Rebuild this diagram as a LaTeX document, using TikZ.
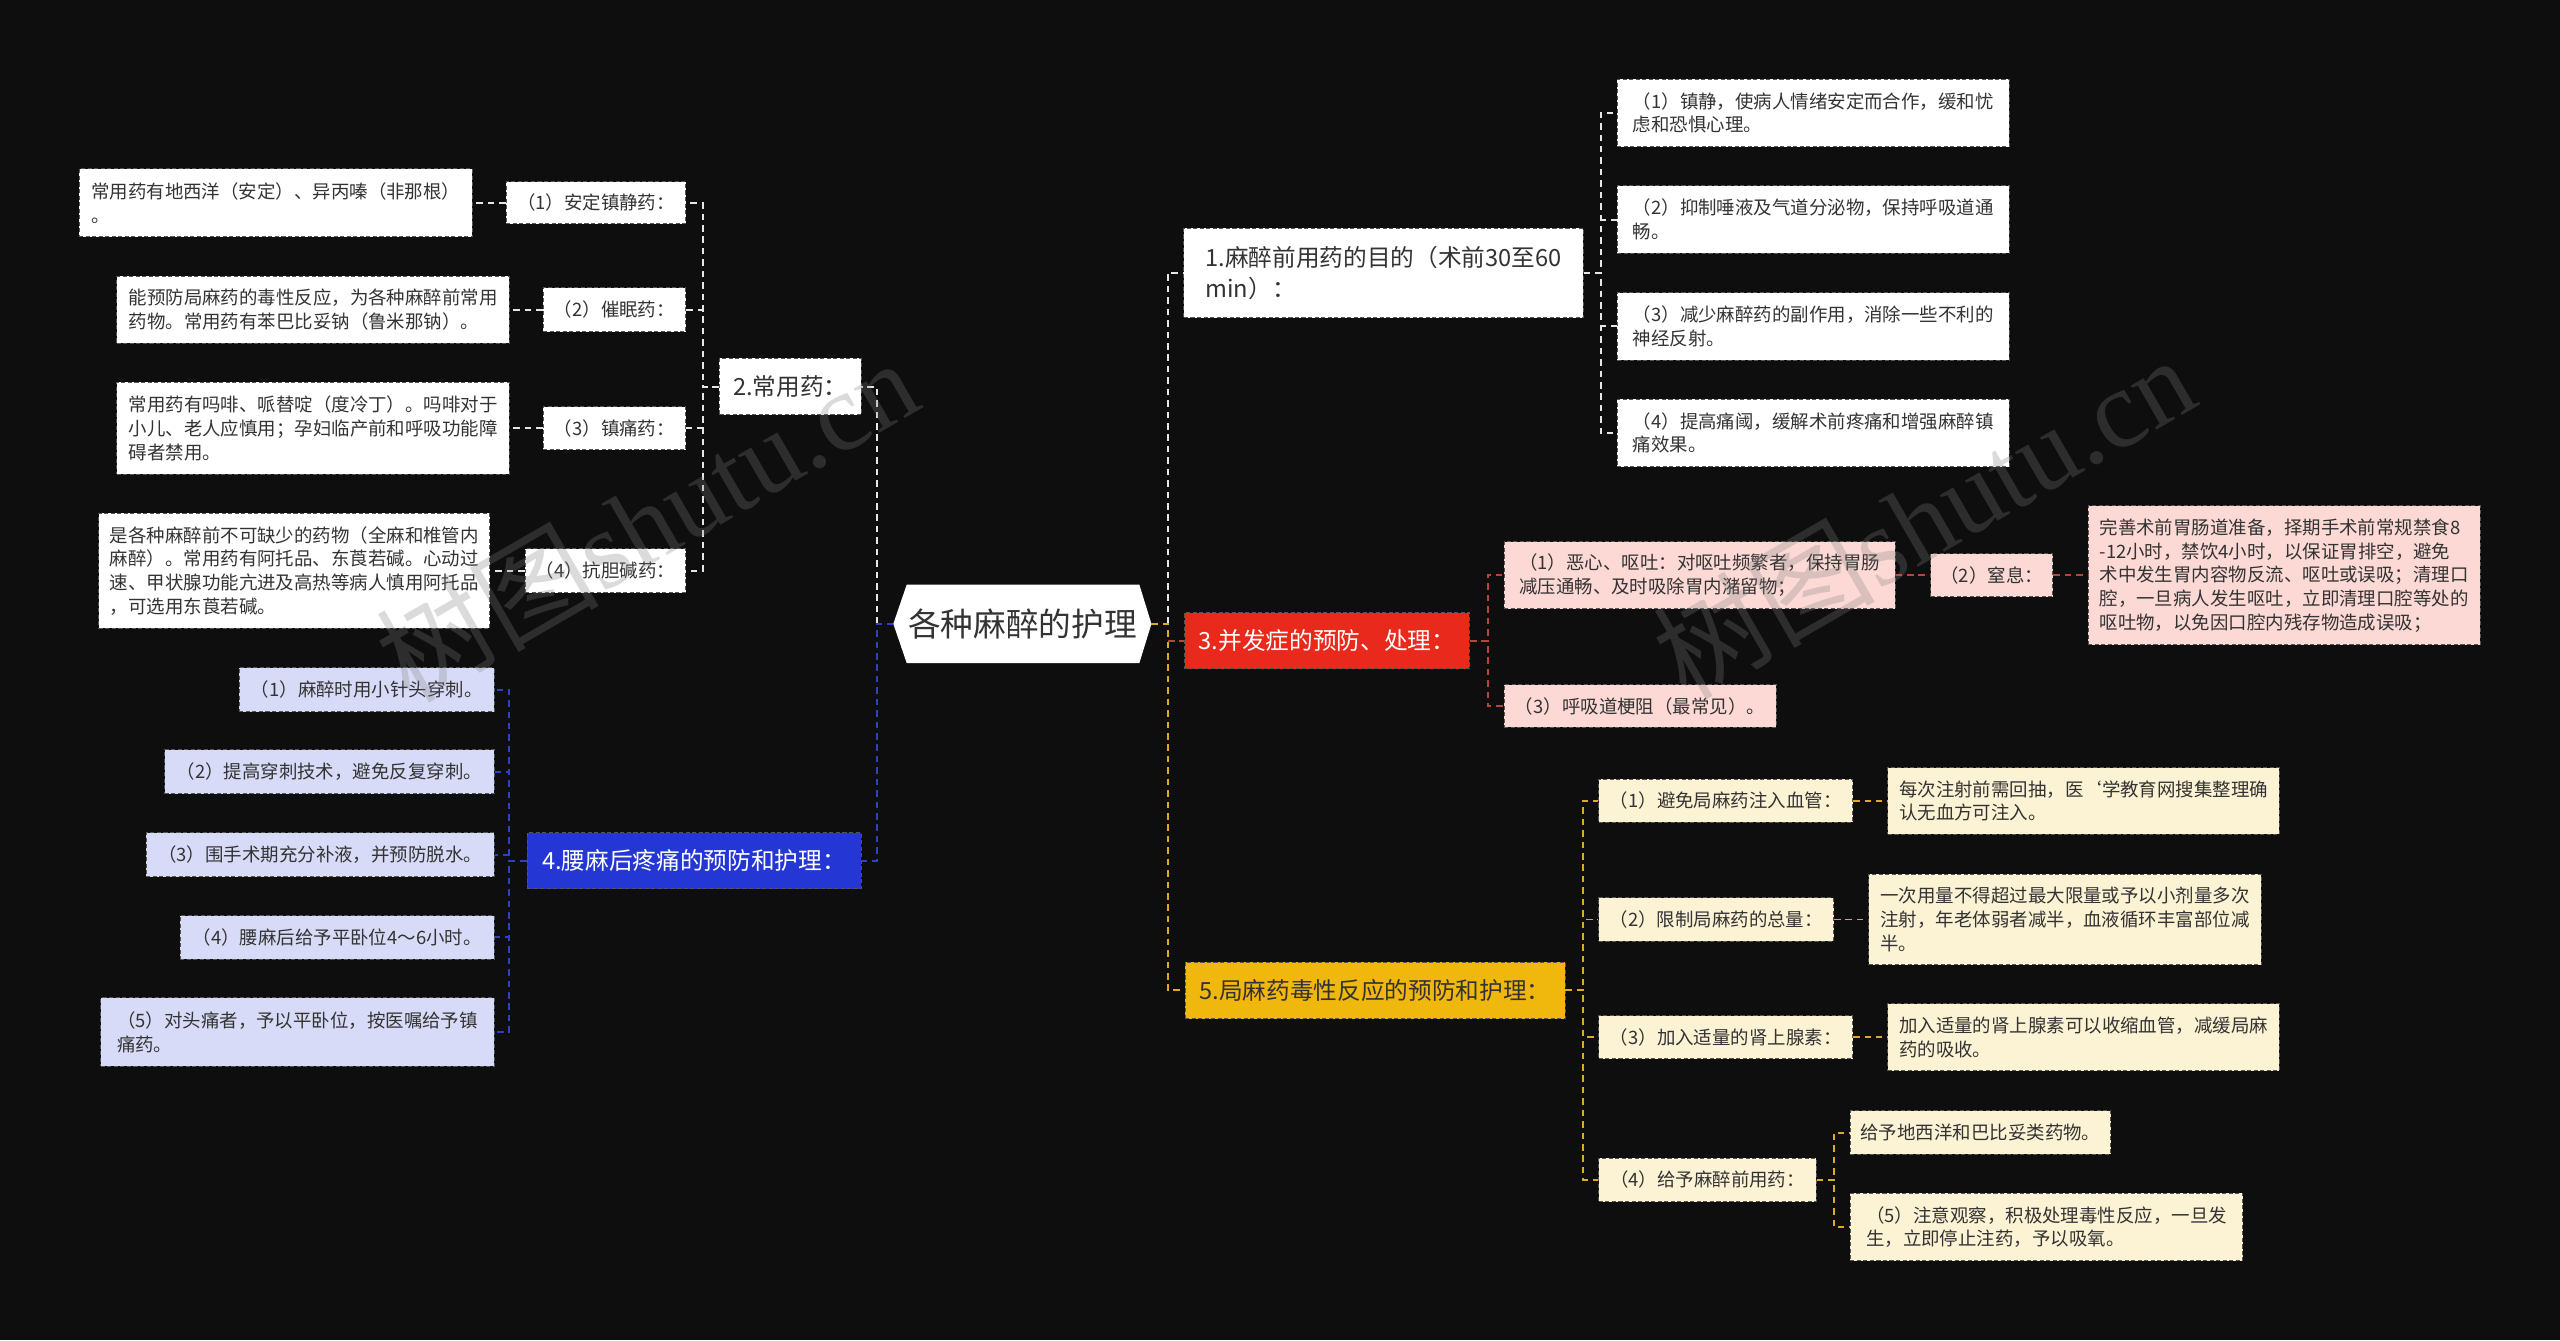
\documentclass[tikz,border=0pt]{standalone}
\usepackage{fontspec}
\setmainfont{Noto Sans CJK SC}
\newfontfamily\wmlatin{Liberation Serif}
\usetikzlibrary{calc}

\definecolor{bgdark}{HTML}{0E0E0E}
\definecolor{lnwhite}{HTML}{E6E6E6}
\definecolor{redfill}{HTML}{E8291C}
\definecolor{redln}{HTML}{B8453C}
\definecolor{yelfill}{HTML}{F0B70D}
\definecolor{yelln}{HTML}{DDAA22}
\definecolor{bluefill}{HTML}{2437D4}
\definecolor{blueln}{HTML}{2C40C8}
\definecolor{pinkfill}{HTML}{FCD9D5}
\definecolor{creamfill}{HTML}{FCF2D4}
\definecolor{lavfill}{HTML}{D8DBF7}
\definecolor{txtdark}{HTML}{333333}
\definecolor{bordr}{HTML}{555555}

\tikzset{
  sz/.style 2 args={minimum width=#1pt, minimum height=#2pt},
  box/.style={fill=#1, draw=bordr, line width=0.6pt, dash pattern=on 2.5pt off 1.5pt,
    inner xsep=6pt, inner ysep=3pt, align=left, text=txtdark},
  small/.style={font=\fontsize{11.3}{14.5}\selectfont},
  topic/.style={font=\fontsize{14.5}{19}\selectfont},
  link/.style={draw=#1, line width=1.2pt, dash pattern=on 4pt off 3pt},
  wline/.style={link=lnwhite}, rline/.style={link=redln},
  yline/.style={link=yelln}, bline/.style={link=blueln},
  wmark/.style={text=gray, opacity=0.28, rotate=30, font=\fontsize{68}{68}\selectfont}
}

\begin{document}
\begin{tikzpicture}[x=1pt, y=-1pt]
  \fill[bgdark] (0,0) rectangle (1568,821);
  \useasboundingbox (0,0) rectangle (1568,821);

  \node[minimum width=157.7pt, minimum height=47.6pt, inner sep=0pt] (root) at (626.2,382.1) {};
  \fill[white] (root.west) -- ([xshift=8.2pt]root.north west) -- ([xshift=-7.4pt]root.north east)
    -- (root.east) -- ([xshift=-7.4pt]root.south east) -- ([xshift=8.2pt]root.south west) -- cycle;
  \node[font=\fontsize{20}{24}\selectfont, text=txtdark] (roottxt) at (root) {各种麻醉的护理};

  \node[box=white, topic, sz={244.7}{54.8}] (purpose) at (847.5,167.2) {1.麻醉前用药的目的（术前30至60\\min）：};
  \node[box=white, small, sz={240.4}{41.2}] (purpose1) at (1110.6,69.2) {（1）镇静，使病人情绪安定而合作，缓和忧\\虑和恐惧心理。};
  \node[box=white, small, sz={240.4}{41.2}] (purpose2) at (1110.6,134.5) {（2）抑制唾液及气道分泌物，保持呼吸道通\\畅。};
  \node[box=white, small, sz={240.4}{41.2}] (purpose3) at (1110.6,199.9) {（3）减少麻醉药的副作用，消除一些不利的\\神经反射。};
  \node[box=white, small, sz={240.4}{41.2}] (purpose4) at (1110.6,265.2) {（4）提高痛阈，缓解术前疼痛和增强麻醉镇\\痛效果。};

  \node[box=redfill, topic, text=white, sz={174.5}{34.5}] (compl) at (812.8,392.5) {3.并发症的预防、处理：};
  \node[box=pinkfill, small, sz={239.5}{41.2}] (compl1) at (1041,352.4) {（1）恶心、呕吐：对呕吐频繁者，保持胃肠\\减压通畅、及时吸除胃内潴留物；};
  \node[box=pinkfill, small, sz={74.3}{26.4}] (compl2) at (1219.9,352.4) {（2）窒息：};
  \node[box=pinkfill, small, sz={240}{85}] (compl2note) at (1399,352.4) {完善术前胃肠道准备，择期手术前常规禁食8\\-12小时，禁饮4小时，以保证胃排空，避免\\术中发生胃内容物反流、呕吐或误吸；清理口\\腔，一旦病人发生呕吐，立即清理口腔等处的\\呕吐物，以免因口腔内残存物造成误吸；};
  \node[box=pinkfill, small, sz={166.6}{26}] (compl3) at (1004.5,432.5) {（3）呼吸道梗阻（最常见）。};

  \node[box=yelfill, topic, sz={232.7}{34.5}] (toxic) at (842.2,606.6) {5.局麻药毒性反应的预防和护理：};
  \node[box=creamfill, small, sz={155.4}{26.4}] (tox1) at (1057,490.5) {（1）避免局麻药注入血管：};
  \node[box=creamfill, small, sz={239.7}{40.8}] (toxnote1) at (1276.2,490.5) {每次注射前需回抽，医`学教育网搜集整理确\\认无血方可注入。};
  \node[box=creamfill, small, sz={143.7}{26.9}] (tox2) at (1051.2,563.2) {（2）限制局麻药的总量：};
  \node[box=creamfill, small, sz={240.5}{55.7}] (toxnote2) at (1264.8,563.2) {一次用量不得超过最大限量或予以小剂量多次\\注射，年老体弱者减半，血液循环丰富部位减\\半。};
  \node[box=creamfill, small, sz={155.4}{26.4}] (tox3) at (1057,635.3) {（3）加入适量的肾上腺素：};
  \node[box=creamfill, small, sz={239.7}{40.8}] (toxnote3) at (1276.2,635.3) {加入适量的肾上腺素可以收缩血管，减缓局麻\\药的吸收。};
  \node[box=creamfill, small, sz={133}{26.5}] (tox4) at (1045.8,722.7) {（4）给予麻醉前用药：};
  \node[box=creamfill, small, sz={159.5}{26.5}] (tox4a) at (1213,693.7) {给予地西洋和巴比妥类药物。};
  \node[box=creamfill, small, sz={240.4}{41.4}] (tox4b) at (1253.5,751.6) {（5）注意观察，积极处理毒性反应，一旦发\\生，立即停止注药，予以吸氧。};

  \node[box=white, topic, sz={86.7}{34.7}] (drugs) at (484,236.8) {2.常用药：};
  \node[box=white, small, sz={110}{25.7}] (drug1) at (365,124.3) {（1）安定镇静药：};
  \node[box=white, small, sz={241}{41.7}] (drugnote1) at (168.9,124.3) {常用药有地西洋（安定）、异丙嗪（非那根）\\。};
  \node[box=white, small, sz={87.4}{26.9}] (drug2) at (376.3,189.8) {（2）催眠药：};
  \node[box=white, small, sz={240.5}{41}] (drugnote2) at (191.8,189.8) {能预防局麻药的毒性反应，为各种麻醉前常用\\药物。常用药有苯巴比妥钠（鲁米那钠）。};
  \node[box=white, small, sz={87.4}{26.6}] (drug3) at (376.3,262.3) {（3）镇痛药：};
  \node[box=white, small, sz={240.5}{56.3}] (drugnote3) at (191.8,262.3) {常用药有吗啡、哌替啶（度冷丁）。吗啡对于\\小儿、老人应慎用；孕妇临产前和呼吸功能障\\碍者禁用。};
  \node[box=white, small, sz={98.4}{26.7}] (drug4) at (370.8,349.6) {（4）抗胆碱药：};
  \node[box=white, small, sz={239.5}{70.7}] (drugnote4) at (180.3,349.6) {是各种麻醉前不可缺少的药物（全麻和椎管内\\麻醉）。常用药有阿托品、东莨若碱。心动过\\速、甲状腺功能亢进及高热等病人慎用阿托品\\，可选用东莨若碱。};

  \node[box=bluefill, topic, text=white, sz={204.6}{34.5}] (headache) at (425.1,527.2) {4.腰麻后疼痛的预防和护理：};
  \node[box=lavfill, small, sz={156}{27}] (head1) at (224.6,422.5) {（1）麻醉时用小针头穿刺。};
  \node[box=lavfill, small, sz={201.8}{26.9}] (head2) at (201.7,472.8) {（2）提高穿刺技术，避免反复穿刺。};
  \node[box=lavfill, small, sz={213}{27}] (head3) at (196.1,523.5) {（3）围手术期充分补液，并预防脱水。};
  \node[box=lavfill, small, sz={192.2}{26.6}] (head4) at (206.5,574.1) {（4）腰麻后给予平卧位4～6小时。};
  \node[box=lavfill, small, sz={240.9}{41.7}] (head5) at (182.2,632.1) {（5）对头痛者，予以平卧位，按医嘱给予镇\\痛药。};

  \coordinate (lsp) at (537,382.1);
  \coordinate (rsp) at (715.4,382.1);
  \draw[wline] (lsp) |- (drugs.east);
  \draw[bline] (root.west) -- (lsp) |- (headache.east);
  \draw[wline] (rsp) |- (purpose.west);
  \draw[yline] (root.east) -- (rsp) |- (toxic.west);
  \draw[rline] (compl.west -| rsp) -- (compl.west);

  \foreach \i in {1,...,4} \draw[wline] (purpose.east) -- ++(10.2,0) |- (purpose\i.west);
  \foreach \i in {1,...,4} {
    \draw[wline] (drugs.west) -- ++(-10,0) |- (drug\i.east);
    \draw[wline] (drug\i.west) -- (drug\i.west -| drugnote\i.east);
  }
  \foreach \i in {1,...,5} \draw[bline] (headache.west) -- ++(-10.6,0) |- (head\i.east);
  \foreach \k in {compl1,compl3} \draw[rline] (compl.east) -- ++(10.8,0) |- (\k.west);
  \draw[rline] (compl1.east) -- (compl1.east -| compl2.west);
  \draw[rline] (compl2.east) -- (compl2.east -| compl2note.west);
  \foreach \i in {1,...,4} \draw[yline] (toxic.east) -- ++(10.9,0) |- (tox\i.west);
  \foreach \i in {1,2,3} \draw[yline] (tox\i.east) -- (tox\i.east -| toxnote\i.west);
  \foreach \k in {tox4a,tox4b} \draw[yline] (tox4.east) -- ++(10.7,0) |- (\k.west);

  \node[wmark] (wmleft) at (396,318) {树图{\wmlatin shutu.cn}};
  \node[wmark] (wmright) at (1178,316) {树图{\wmlatin shutu.cn}};
\end{tikzpicture}
\end{document}
